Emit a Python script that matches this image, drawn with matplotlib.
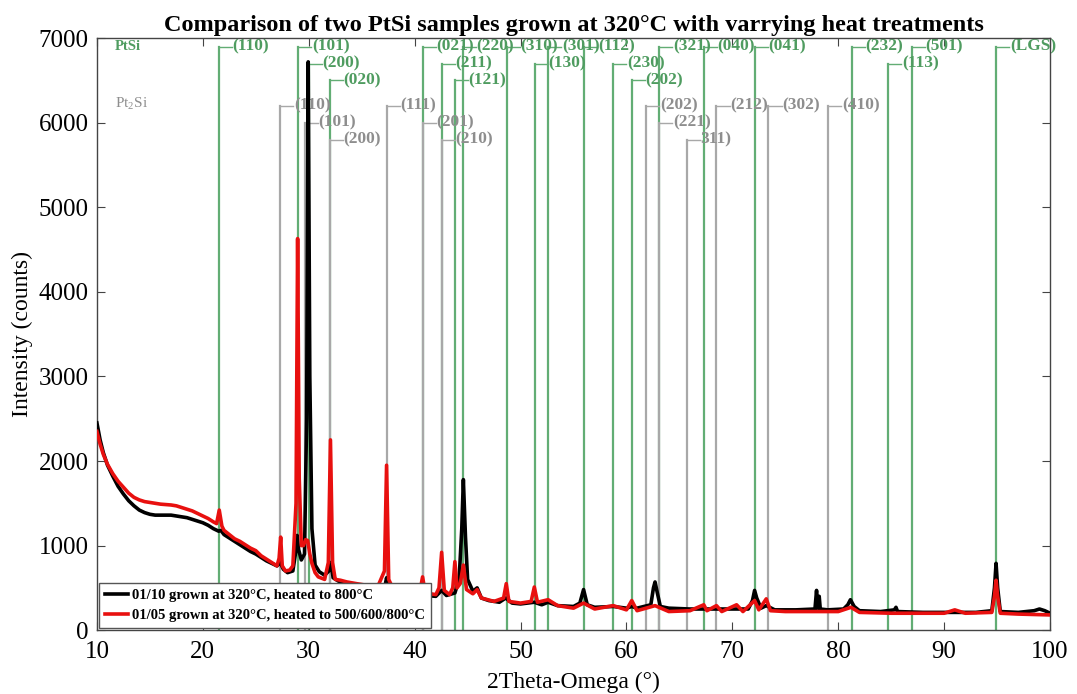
import matplotlib
matplotlib.use("Agg")
import matplotlib.pyplot as plt

plt.rcParams["font.family"] = ["Liberation Serif", "DejaVu Serif"]
plt.rcParams["mathtext.fontset"] = "custom"
plt.rcParams["mathtext.rm"] = "Liberation Serif"
plt.rcParams["mathtext.bf"] = "Liberation Serif:bold"

# 01/10 grown at 320C, heated to 800C (black)
x_a = [10.0, 10.3, 10.6, 11.0, 11.5, 12.0, 12.5, 13.0, 13.5, 14.0, 14.5, 15.0,
       15.5, 16.0, 16.5, 17.0, 17.5, 18.0, 18.5, 19.0, 19.5, 20.0, 20.5, 21.0,
       21.5, 21.7, 22.0, 22.5, 23.0, 23.5, 24.0, 24.5, 25.0, 25.5, 26.0, 26.5,
       27.0, 27.3, 27.6, 28.0, 28.5, 28.8, 28.9, 29.05, 29.3, 29.6, 29.8, 29.95,
       30.1, 30.3, 30.6, 31.0, 31.5, 31.9, 32.1, 32.3, 32.8, 33.5, 34.5, 35.5,
       36.5, 37.2, 37.35, 37.5, 38.5, 39.5, 40.5, 40.75, 41.0, 42.0, 42.55, 43.0,
       43.8, 44.2, 44.45, 44.6, 44.8, 45.0, 45.5, 45.9, 46.3, 47.0, 48.0, 48.6,
       49.2, 50.0, 51.3, 52.0, 52.6, 53.5, 55.0, 55.6, 55.95, 56.3, 57.0, 58.75,
       60.0, 60.5, 61.0, 62.3, 62.55, 62.7, 62.9, 63.2, 64.0, 66.0, 68.0, 70.0,
       71.5, 71.9, 72.1, 72.3, 72.7, 73.2, 74.0, 76.0, 77.8, 77.95, 78.05, 78.2,
       78.3, 79.0, 80.5, 80.9, 81.15, 81.5, 82.0, 84.0, 85.3, 85.45, 85.6, 88.0,
       90.0, 93.0, 94.5, 94.75, 94.9, 95.05, 95.3, 97.0, 98.5, 99.0, 99.5, 100.0]
y_a = [2450, 2250, 2100, 1950, 1820, 1700, 1610, 1530, 1470, 1420, 1390, 1370,
       1360, 1360, 1360, 1360, 1350, 1340, 1330, 1310, 1290, 1270, 1240, 1200,
       1170, 1180, 1130, 1090, 1050, 1010, 970, 930, 900, 860, 820, 790,
       760, 800, 720, 680, 700, 950, 1120, 950, 830, 900, 2500, 6720,
       3000, 1200, 770, 690, 650, 700, 800, 620, 580, 560, 540, 520,
       500, 520, 620, 500, 470, 450, 420, 440, 410, 400, 470, 410,
       440, 600, 1200, 1780, 1100, 600, 460, 500, 380, 350, 330, 380,
       320, 310, 330, 300, 330, 290, 280, 320, 480, 300, 270, 280,
       260, 280, 260, 300, 500, 570, 450, 280, 260, 250, 250, 250,
       250, 350, 470, 380, 260, 290, 240, 240, 250, 470, 260, 400,
       250, 240, 250, 300, 360, 280, 230, 220, 240, 270, 220, 210,
       210, 210, 230, 500, 790, 500, 220, 210, 230, 250, 230, 200]

# 01/05 grown at 320C, heated to 500/600/800C (red)
x_b = [10.0, 10.3, 10.6, 11.0, 11.5, 12.0, 12.5, 13.0, 13.5, 14.0, 14.5, 15.0,
       15.5, 16.0, 16.5, 17.0, 17.5, 18.0, 18.5, 19.0, 19.5, 20.0, 20.5, 21.0,
       21.3, 21.55, 21.8, 22.0, 22.5, 23.0, 23.5, 24.0, 24.5, 25.0, 25.5, 26.0,
       26.5, 27.0, 27.2, 27.35, 27.5, 27.8, 28.2, 28.5, 28.8, 28.95, 29.1, 29.3,
       29.5, 29.7, 29.9, 30.1, 30.3, 30.6, 30.9, 31.5, 31.85, 32.05, 32.25, 32.5,
       33.0, 33.6, 34.5, 35.5, 36.5, 37.15, 37.35, 37.55, 38.0, 39.0, 40.0, 40.5,
       40.75, 41.0, 42.0, 42.3, 42.55, 42.8, 43.3, 43.6, 43.8, 44.0, 44.3, 44.6,
       44.9, 45.5, 45.9, 46.3, 47.5, 48.4, 48.65, 48.9, 50.0, 51.0, 51.3, 51.6,
       52.6, 53.5, 55.0, 55.95, 57.0, 58.75, 60.0, 60.5, 61.0, 62.7, 64.0, 66.0,
       67.3, 67.6, 68.5, 69.0, 70.4, 71.0, 72.1, 72.5, 73.2, 73.6, 75.0, 78.0,
       80.0, 81.2, 82.0, 85.0, 88.0, 90.0, 91.0, 92.0, 94.5, 94.75, 94.9, 95.05,
       95.3, 97.0, 100.0]
y_b = [2350, 2200, 2080, 1960, 1850, 1760, 1690, 1620, 1570, 1540, 1520, 1510,
       1500, 1490, 1485, 1480, 1470, 1450, 1430, 1410, 1380, 1350, 1320, 1280,
       1260, 1420, 1230, 1180, 1130, 1080, 1050, 1010, 970, 940, 880, 840,
       800, 760, 850, 1100, 760, 700, 710, 760, 1500, 4630, 1800, 1000,
       1000, 1070, 1060, 900, 790, 680, 630, 600, 800, 2250, 800, 600,
       590, 570, 550, 530, 510, 700, 1950, 600, 480, 460, 440, 460,
       630, 440, 420, 500, 920, 470, 420, 500, 810, 500, 550, 770,
       480, 430, 480, 380, 340, 380, 550, 340, 320, 340, 510, 330,
       360, 290, 260, 320, 250, 290, 240, 350, 230, 290, 220, 230,
       300, 230, 290, 220, 300, 220, 350, 240, 370, 230, 220, 220,
       220, 270, 210, 200, 200, 200, 240, 200, 210, 400, 590, 400,
       200, 190, 180]

# reference reflections: position, marker height, label
ptsi_pos = [21.52, 29.0, 30.0, 32.0, 40.75, 42.55, 43.8, 44.53, 48.68, 51.36,
            52.6, 55.99, 58.75, 60.48, 63.09, 67.32, 72.13, 81.26, 84.72, 86.92,
            94.9]
ptsi_h = [6900, 6900, 6700, 6500, 6900, 6700, 6500, 6900, 6900, 6700,
          6900, 6900, 6700, 6500, 6900, 6900, 6900, 6900, 6700, 6900,
          6900]
ptsi_lab = ["(110)", "(101)", "(200)", "(020)", "(021)", "(211)", "(121)",
            "(220)", "(310)", "(130)", "(301)", "(112)", "(230)", "(202)",
            "(321)", "(040)", "(041)", "(232)", "(113)", "(501)", "(LGS)"]

pt2si_pos = [27.3, 29.6, 32.0, 37.35, 40.75, 42.55, 61.86, 63.09, 65.67,
             68.5, 73.4, 79.05]
pt2si_h = [6200, 6000, 5800, 6200, 6000, 5800, 6200, 6000, 5800,
           6200, 6200, 6200]
pt2si_lab = ["(110)", "(101)", "(200)", "(111)", "(201)", "(210)", "(202)",
             "(221)", "311)", "(212)", "(302)", "(410)"]

GREEN_LINE = "#62ad74"
GREEN_TXT = "#4f9c60"
GRAY_LINE = "#a8a8a8"
GRAY_TXT = "#8e8e8e"


def draw_refs(ax, pos, h, lab, lcol, tcol):
    for x, y, s in zip(pos, h, lab):
        ax.plot([x, x], [0, y], color=lcol, lw=1.6, zorder=1)
        ax.plot([x, x + 1.25], [y, y], color=lcol, lw=1.0, zorder=1)
        ax.text(x + 1.3, y, s, color=tcol, fontsize=12.5, fontweight="bold",
                ha="left", va="center", zorder=2)


fig = plt.figure(figsize=(10.77, 6.94), dpi=100)
ax = fig.add_axes([0.090, 0.092, 0.885, 0.853])

draw_refs(ax, ptsi_pos, ptsi_h, ptsi_lab, GREEN_LINE, GREEN_TXT)
draw_refs(ax, pt2si_pos, pt2si_h, pt2si_lab, GRAY_LINE, GRAY_TXT)

ax.plot(x_a, y_a, color="black", lw=2.6, zorder=3,
        label="01/10 grown at 320\u00b0C, heated to 800\u00b0C")
ax.plot(x_b, y_b, color="#e8100f", lw=2.6, zorder=4,
        label="01/05 grown at 320\u00b0C, heated to 500/600/800\u00b0C")

ax.text(11.7, 6900, "PtSi", color=GREEN_TXT, fontsize=10.5,
        fontweight="bold", va="center")
ax.text(11.7, 6230, r"Pt$_2$Si", color=GRAY_TXT, fontsize=11, va="center")

ax.set_xlim(10, 100)
ax.set_ylim(0, 7000)
ax.set_xticks(range(10, 101, 10))
ax.set_yticks(range(0, 7001, 1000))
ax.tick_params(direction="in", top=True, right=True, labelsize=18,
               length=6, color="#444")
ax.tick_params(axis="x", pad=8)
ax.tick_params(axis="y", pad=6)
for s in ax.spines.values():
    s.set_color("#444")
    s.set_linewidth(1.0)

ax.set_xlabel("2Theta-Omega (\u00b0)", fontsize=17, labelpad=6)
ax.set_ylabel("Intensity (counts)", fontsize=17, labelpad=4)
ax.set_title("Comparison of two PtSi samples grown at 320\u00b0C with varrying heat treatments",
             fontsize=17.5, fontweight="bold", pad=5)

leg = ax.legend(loc="lower left", fontsize=10.5, frameon=True, fancybox=False,
                borderaxespad=0.15, borderpad=0.4, handlelength=1.6,
                handletextpad=0.25, labelspacing=0.45, framealpha=1)
leg.get_frame().set_edgecolor("#555")
for t in leg.get_texts():
    t.set_fontweight("bold")

fig.savefig("out.png", dpi=100)
